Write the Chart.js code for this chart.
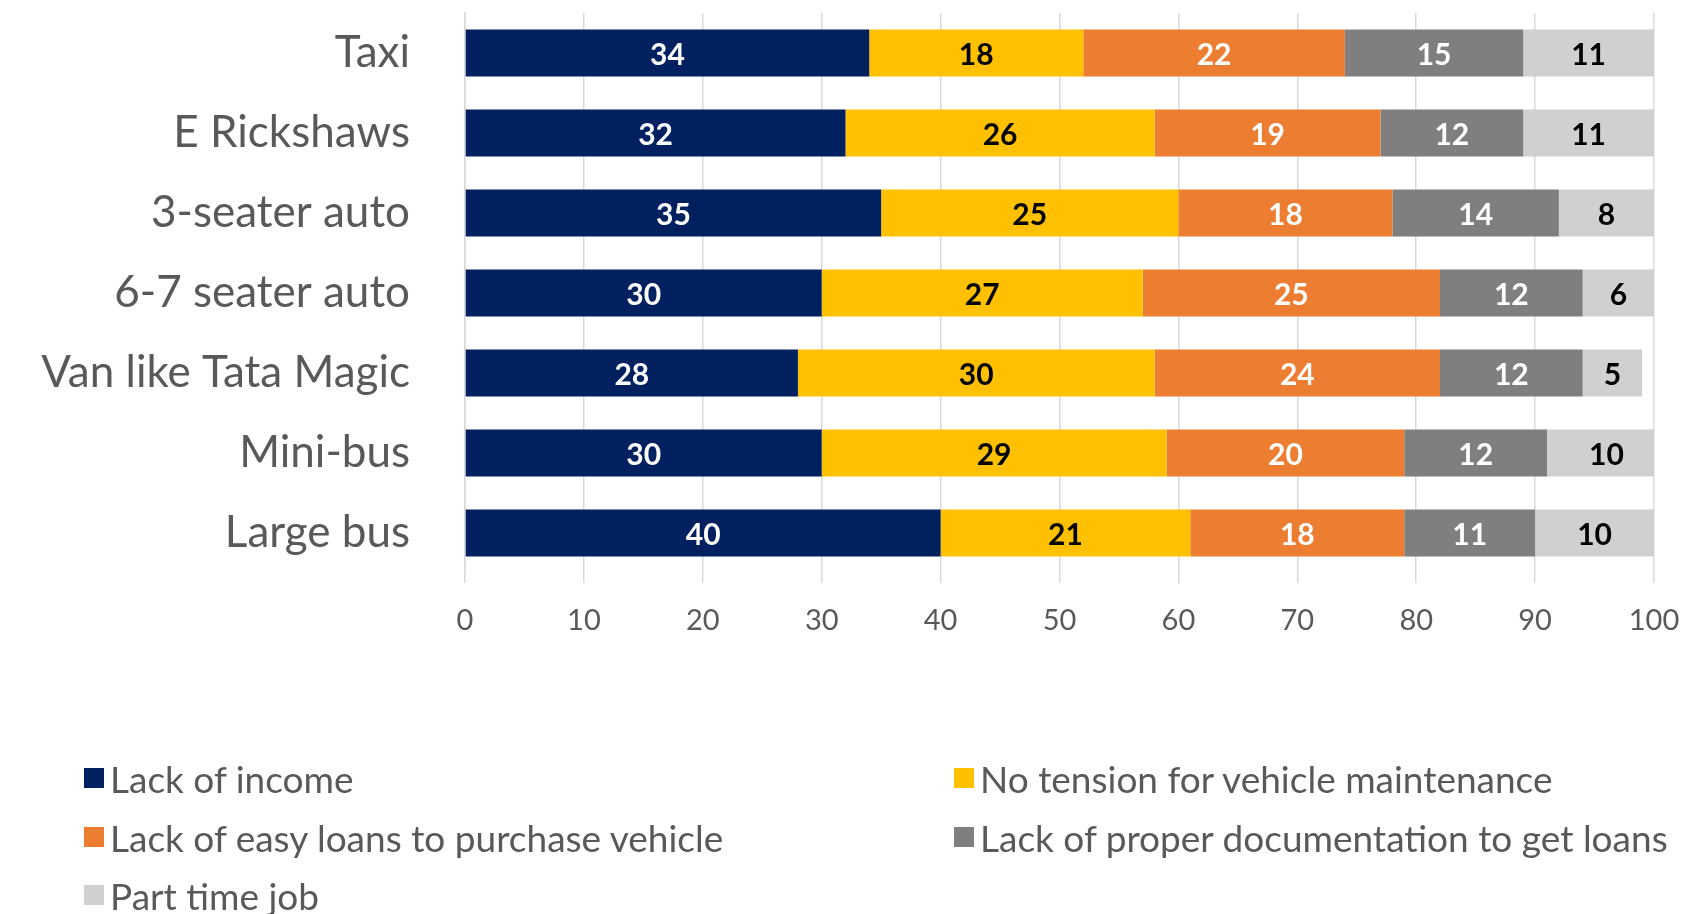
<!DOCTYPE html>
<html>
<head>
<meta charset="utf-8">
<script src="https://cdn.jsdelivr.net/npm/chart.js@4/dist/chart.umd.min.js"></script>
<style>
  html, body { margin: 0; padding: 0; background: #fff; }
  #wrap { position: relative; width: 1684px; height: 914px; overflow: hidden; }
  #chartBox { position: absolute; left: 0; top: 0; width: 1684px; height: 660px; }
  #legend { position: absolute; left: 0; top: 0; width: 1684px; height: 914px; pointer-events: none;
    font-family: Lato, "Open Sans", sans-serif; font-size: 37px; color: #595959; }
  .item { position: absolute; display: flex; align-items: center; white-space: nowrap; }
  .swatch { width: 20px; height: 20px; margin-right: 6px; }
</style>
</head>
<body>
<div id="wrap">
  <div id="chartBox"><canvas id="barChart"></canvas></div>
  <div id="legend"></div>
</div>
<script>
// Categories (top to bottom)
const categories = ["Taxi", "E Rickshaws", "3-seater auto", "6-7 seater auto", "Van like Tata Magic", "Mini-bus", "Large bus"];

// Series values, percent
const lackOfIncome = [34, 32, 35, 30, 28, 30, 40];
const noTension = [18, 26, 25, 27, 30, 29, 21];
const lackOfLoans = [22, 19, 18, 25, 24, 20, 18];
const lackOfDocs = [15, 12, 14, 12, 12, 12, 11];
const partTime = [11, 11, 8, 6, 5, 10, 10];

const xTicks = [0, 10, 20, 30, 40, 50, 60, 70, 80, 90, 100];

const seriesNames = ["Lack of income", "No tension for vehicle maintenance", "Lack of easy loans to purchase vehicle", "Lack of proper documentation to get loans", "Part time job"];
const seriesData = [lackOfIncome, noTension, lackOfLoans, lackOfDocs, partTime];
const seriesColors = ["#002060", "#FFC000", "#ED7D31", "#7F7F7F", "#D0D0D0"];
const labelColors = ["#FFFFFF", "#000000", "#FFFFFF", "#FFFFFF", "#000000"];

// Value labels centred in each segment
const segmentLabels = {
  id: "segmentLabels",
  afterDatasetsDraw(chart) {
    const ctx = chart.ctx;
    ctx.save();
    ctx.font = "bold 30px Lato, 'Open Sans', sans-serif";
    ctx.textAlign = "center";
    ctx.textBaseline = "middle";
    chart.data.datasets.forEach((ds, i) => {
      const meta = chart.getDatasetMeta(i);
      meta.data.forEach((bar, j) => {
        const cx = (bar.x + bar.base) / 2;
        ctx.fillStyle = labelColors[i];
        ctx.fillText(String(ds.data[j]), cx, bar.y + 2);
      });
    });
    ctx.restore();
  }
};

const barChart = new Chart(document.getElementById("barChart").getContext("2d"), {
  type: "bar",
  data: {
    labels: categories,
    datasets: seriesNames.map((name, i) => ({
      label: name,
      data: seriesData[i],
      backgroundColor: seriesColors[i],
      borderWidth: 0,
      categoryPercentage: 1,
      barPercentage: 0.59,
    })),
  },
  options: {
    indexAxis: "y",
    responsive: true,
    maintainAspectRatio: false,
    animation: false,
    layout: { padding: { top: 13, right: 30, left: 0, bottom: 0 } },
    scales: {
      x: {
        stacked: true,
        min: 0,
        max: 100,
        afterBuildTicks: (scale) => { scale.ticks = xTicks.map((v) => ({ value: v })); },
        afterFit: (scale) => {
          scale.height = 87;
          scale.paddingLeft = 0;
          scale.paddingRight = 0;
        },
        grid: { color: "#D9D9D9", lineWidth: 1.5, tickLength: 10, drawTicks: true },
        border: { display: false },
        ticks: {
          color: "#595959",
          padding: 20,
          font: { family: "Lato, 'Open Sans', sans-serif", size: 29 },
        },
      },
      y: {
        stacked: true,
        afterFit: (scale) => {
          scale.width = 465;
          scale.paddingTop = 0;
          scale.paddingBottom = 0;
        },
        grid: { display: false },
        border: { display: true, color: "#D9D9D9", width: 1.5 },
        ticks: {
          color: "#595959",
          padding: 47,
          font: { family: "Lato, 'Open Sans', sans-serif", size: 44 },
        },
      },
    },
    plugins: {
      legend: { display: false },
      tooltip: { enabled: false },
    },
  },
  plugins: [segmentLabels],
});

// Legend laid out in two columns
const legendBox = document.getElementById("legend");
const legendSpots = [[84, 778], [954, 778], [84, 837], [954, 837], [84, 895]];
seriesNames.forEach((name, i) => {
  const item = document.createElement("div");
  item.className = "item";
  item.style.left = legendSpots[i][0] + "px";
  item.style.top = (legendSpots[i][1] - 22) + "px";
  item.style.height = "44px";
  const sw = document.createElement("span");
  sw.className = "swatch";
  sw.style.background = seriesColors[i];
  const txt = document.createElement("span");
  txt.textContent = name;
  item.appendChild(sw);
  item.appendChild(txt);
  legendBox.appendChild(item);
});
</script>
</body>
</html>
